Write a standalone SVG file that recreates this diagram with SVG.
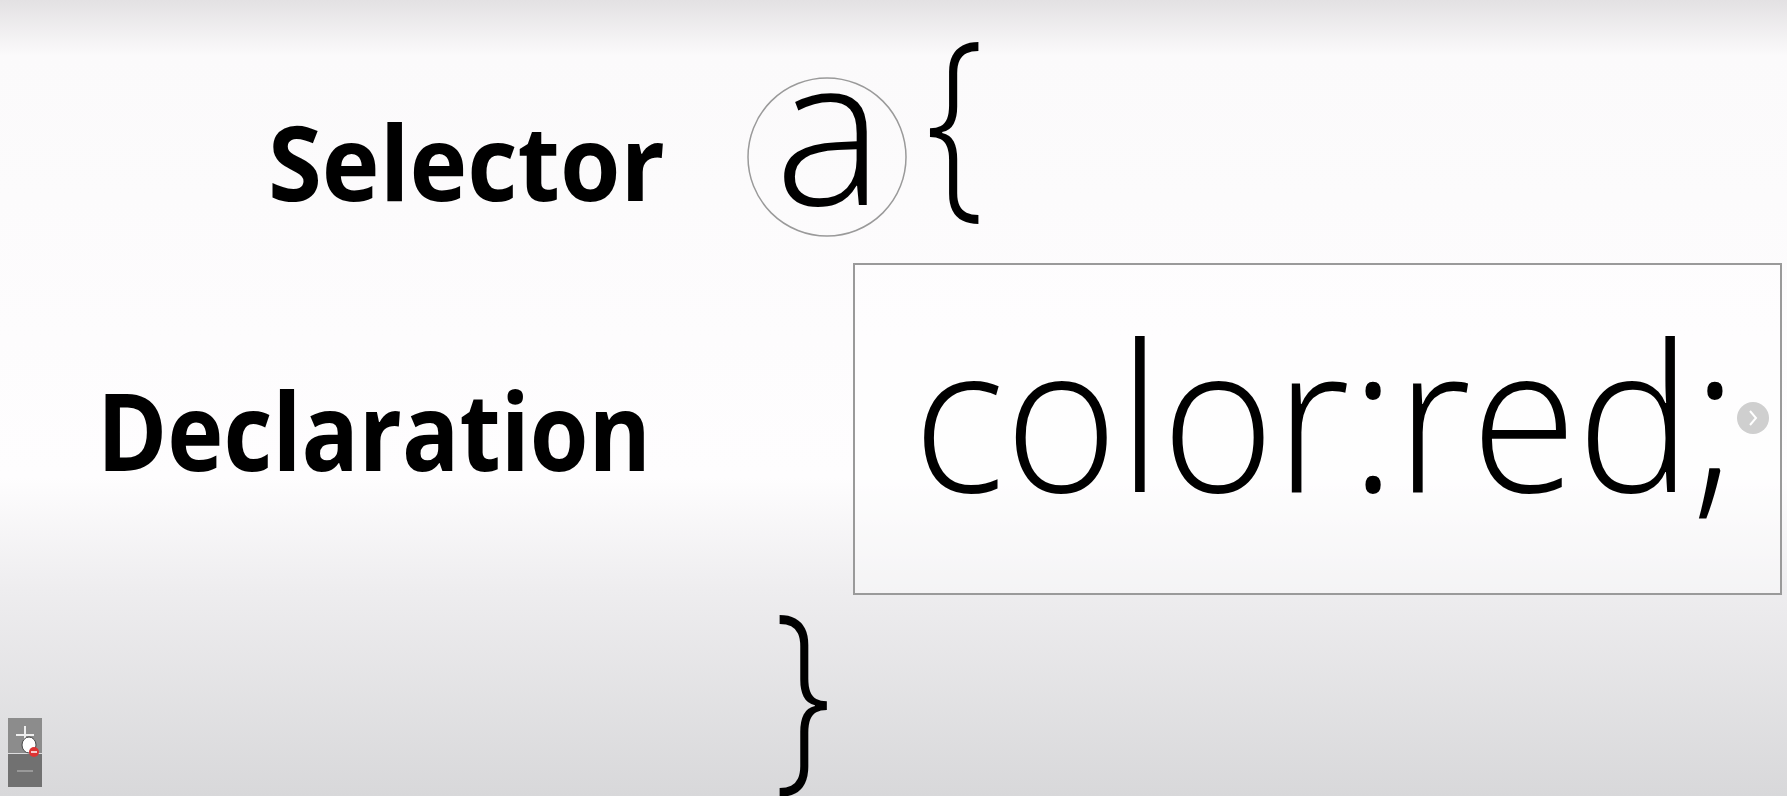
<svg xmlns="http://www.w3.org/2000/svg" width="1787" height="796" viewBox="0 0 1787 796">
<defs>
<linearGradient id="bg" x1="0" y1="0" x2="0" y2="1">
<stop offset="0" stop-color="#e3e1e3"/>
<stop offset="0.07" stop-color="#fbfafb"/>
<stop offset="0.6" stop-color="#fefdfe"/>
<stop offset="0.74" stop-color="#eeedef"/>
<stop offset="1" stop-color="#d8d8da"/>
</linearGradient>
<style>
.lbl{font-family:"Open Sans","Noto Sans","Liberation Sans",sans-serif;font-weight:700;fill:#000}
.code{font-family:"Open Sans","Lato","Noto Sans","Liberation Sans",sans-serif;font-weight:300;fill:#000}
</style>
</defs>
<rect width="1787" height="796" fill="url(#bg)"/>
<g id="selector-label"><text class="lbl" x="268" y="201" font-size="104" textLength="397" lengthAdjust="spacingAndGlyphs">Selector</text></g>
<g id="declaration-label"><text class="lbl" x="97" y="471" font-size="108" textLength="554" lengthAdjust="spacingAndGlyphs">Declaration</text></g>
<g id="selector">
<circle cx="827" cy="157" r="79" fill="none" stroke="#9a9a9a" stroke-width="1.5"/>
<text class="code" x="829" y="205" font-size="206" text-anchor="middle">a</text>
</g>
<g id="open-brace" transform="translate(930,191) scale(0.8,1)"><text class="code" x="-5.5" y="0" font-size="208">{</text></g>
<g id="declaration">
<rect x="854" y="264" width="927" height="330" fill="#fff" fill-opacity="0.4" stroke="#9a9a9a" stroke-width="2"/>
<text class="code" x="913" y="492" font-size="205" textLength="825" lengthAdjust="spacingAndGlyphs">color:red;</text>
</g>
<g id="close-brace" transform="translate(779,764) scale(0.78,1)"><text class="code" x="-6.5" y="0" font-size="208">}</text></g>
<g id="next-button">
<circle cx="1753" cy="418" r="16" fill="#cfcfcf"/>
<path d="M1750 411 L1756 418 L1750 425" fill="none" stroke="#fff" stroke-width="2"/>
</g>
<g id="zoom-control">
<rect x="8" y="718" width="34" height="35" fill="#8c8c8c"/>
<rect x="8" y="754" width="34" height="33" fill="#717171"/>
<path d="M16 735 H34 M25 726 V744" stroke="#eee" stroke-width="2"/>
<path d="M17 771 H33" stroke="#999" stroke-width="2"/>
<ellipse cx="29" cy="745" rx="7" ry="8" fill="#fff" stroke="#444" stroke-width="1"/>
<circle cx="34" cy="752" r="5" fill="#d33"/>
<path d="M31 752 H37" stroke="#fff" stroke-width="1.5"/>
</g>
</svg>
